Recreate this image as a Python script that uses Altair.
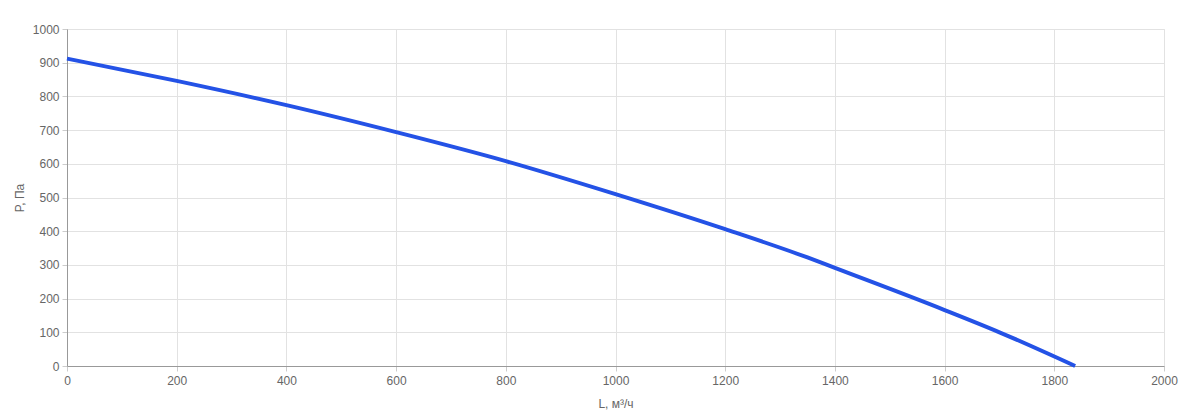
import altair as alt
import pandas as pd

L_values = [0, 200, 400, 600, 800, 1000, 1200, 1350, 1400, 1600, 1700, 1838]
P_values = [912, 846, 774, 694, 608, 510, 406, 322, 291, 166, 100, 0]

df = pd.DataFrame({"L": L_values, "P": P_values})

font = "Liberation Sans"
axis_common = dict(
    labelFont=font, labelFontSize=12, labelColor="#666666",
    titleFont=font, titleFontSize=12, titleColor="#666666", titleFontWeight="normal",
    gridColor="#e2e2e2", domainColor="#999999", tickColor="#cccccc", tickSize=5,
    format="d", labelFlush=False,
)

chart = alt.Chart(df).mark_line(color="#2452e6", strokeWidth=4, interpolate="monotone").encode(
    x=alt.X("L:Q", scale=alt.Scale(domain=[0, 2000], nice=False),
            axis=alt.Axis(title="L, м³/ч", values=list(range(0, 2001, 200)), titlePadding=12,
                          labelPadding=4, **axis_common)),
    y=alt.Y("P:Q", scale=alt.Scale(domain=[0, 1000], nice=False),
            axis=alt.Axis(title="P, Па", values=list(range(0, 1001, 100)), titlePadding=6,
                          labelPadding=3, **axis_common)),
).properties(
    width=1097, height=337,
    autosize=alt.AutoSizeParams(type="none"),
    padding={"left": 59, "top": 21, "right": 20, "bottom": 50},
).configure_view(stroke="#e2e2e2")

chart.save("out.html", embed_options={"renderer": "svg", "actions": False})
